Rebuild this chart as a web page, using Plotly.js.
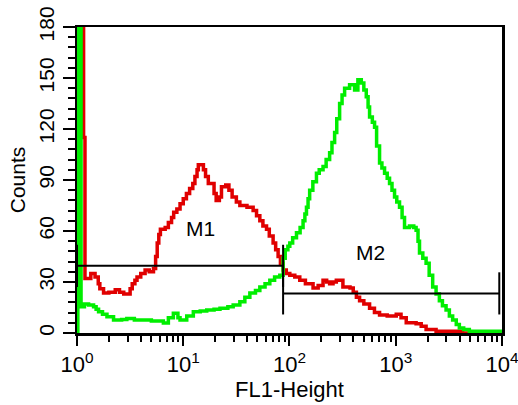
<!DOCTYPE html>
<html>
<head>
<meta charset="utf-8">
<script src="https://cdn.plot.ly/plotly-3.0.1.min.js"></script>
<style>html,body{margin:0;padding:0;background:#fff;overflow:hidden;}</style>
</head>
<body>
<div id="chart" style="width:518px;height:405px;"></div>
<script>
// FL1 positions are stored as decades (log10 of FL1-Height)
const redDecade = [0.045,0.062,0.075,0.100,0.130,0.170,0.200,0.215,0.250,0.300,0.360,0.400,0.440,0.500,0.520,0.545,0.565,0.600,0.641,0.680,0.720,0.740,0.755,0.770,0.785,0.830,0.860,0.890,0.910,0.940,0.970,1.000,1.030,1.060,1.090,1.110,1.130,1.142,1.190,1.210,1.236,1.270,1.290,1.310,1.340,1.360,1.400,1.430,1.460,1.500,1.533,1.600,1.658,1.690,1.721,1.750,1.784,1.810,1.846,1.870,1.893,1.915,1.940,1.970,2.003,2.050,2.097,2.150,2.222,2.270,2.316,2.350,2.378,2.410,2.441,2.503,2.570,2.600,2.630,2.660,2.700,2.754,2.800,2.848,2.920,3.005,3.050,3.099,3.192,3.240,3.286,3.380,3.630,4.000];
const redCounts = [200,115,32,32,35,33,29,26,23.5,24,25.5,24,23,26,29,31,33,35,37,36,38,45,53,58,61,62,65,68,71,73,76,79,82,85,88,92,96,99,96,92,88,88,82,78,80,86,87,84,80,77,75,74,72,69,66,63,61,57,53,49,45,41,37,35,34,33,31,29,26.5,28,31,30,29,30,31,27,26.5,24,21,19,17,14.5,12,10.6,10,11,9,6,5.5,4,2,1,0,0];

const greenDecade = [0.000,0.008,0.038,0.070,0.109,0.156,0.180,0.203,0.240,0.282,0.344,0.420,0.469,0.540,0.625,0.700,0.813,0.860,0.907,0.950,0.970,1.033,1.095,1.160,1.221,1.290,1.346,1.420,1.470,1.533,1.580,1.627,1.680,1.721,1.770,1.815,1.860,1.909,1.940,1.960,1.985,2.003,2.030,2.066,2.100,2.128,2.145,2.160,2.175,2.190,2.220,2.254,2.280,2.316,2.345,2.378,2.400,2.425,2.445,2.472,2.495,2.519,2.566,2.613,2.644,2.676,2.700,2.723,2.740,2.754,2.780,2.801,2.820,2.848,2.870,2.895,2.920,2.942,2.965,2.989,3.010,3.036,3.060,3.083,3.130,3.170,3.192,3.210,3.224,3.255,3.286,3.315,3.348,3.380,3.411,3.440,3.474,3.505,3.536,3.570,3.599,3.640,3.693,4.000];
const greenCounts = [0,200,15.5,17,16.5,15.5,14,12.5,11,9.6,7.6,8,8.5,7.6,7.6,7,5.9,9,11.6,9,7.6,10,12.5,13,13.5,14,14.5,15.5,16.5,18.4,21,23.5,25,27,29,31,33,34,44,49,51,53,56,59,62,66,70,74,79,84,89,94,96,98,102,106,112,118,126,135,140,144,146,143,149,147,143,139,133,127,124,121,110,100,97,94,91,88,84,80,77,74,68,62,63,62,60.5,54,47,44,41,34,27,23,19,16,13.5,10,7.6,5,3,2,1,1];

const gateNames = ['M1','M2'];
const gateStartDecade = [0.0, 1.94];
const gateEndDecade = [1.94, 3.975];
const gateLevel = [39.5, 23.3];
const gateLabelDecade = [1.165, 2.762];
const gateLabelCount = [61.2, 47.4];

const xTickVals = [1,10,100,1000,10000];
const xTickText = ['10<sup>0</sup>','10<sup>1</sup>','10<sup>2</sup>','10<sup>3</sup>','10<sup>4</sup>'];
const yTickVals = [0,30,60,90,120,150,180];

const toFL1 = d => Math.pow(10, d);

const traces = [
  {x: redDecade.map(toFL1), y: redCounts, mode:'lines', line:{shape:'hv', color:'#e00000', width:3.5}, hoverinfo:'skip'},
  {x: greenDecade.map(toFL1), y: greenCounts, mode:'lines', line:{shape:'hv', color:'#00ee00', width:3.5}, hoverinfo:'skip'}
];

const tickHalf = 12.4;
gateNames.forEach((n,i) => {
  const a = toFL1(gateStartDecade[i]), b = toFL1(gateEndDecade[i]), L = gateLevel[i];
  traces.push({x:[a,b], y:[L,L], mode:'lines', line:{color:'#000', width:2}, hoverinfo:'skip'});
  traces.push({x:[a,a], y:[L-tickHalf,L+tickHalf], mode:'lines', line:{color:'#000', width:2}, hoverinfo:'skip'});
  traces.push({x:[b,b], y:[L-tickHalf,L+tickHalf], mode:'lines', line:{color:'#000', width:2}, hoverinfo:'skip'});
});

const minorX = [];
for (let dec = 1; dec < 10000; dec *= 10) for (let k = 2; k <= 9; k++) minorX.push(k*dec);

const font = {family:'"Liberation Sans", Arial, sans-serif', color:'#000'};

const layout = {
  width:518, height:405,
  margin:{l:77, r:16, t:27, b:72},
  paper_bgcolor:'#fff', plot_bgcolor:'#fff',
  showlegend:false,
  font: Object.assign({size:21}, font),
  xaxis:{
    type:'log', range:[0,4.0005], autorange:false,
    tickmode:'array', tickvals:xTickVals, ticktext:xTickText,
    ticks:'outside', ticklen:10, tickwidth:2, tickcolor:'#000',
    ticklabeloverflow:'allow',
    showline:true, linecolor:'#000', linewidth:2.5, mirror:true,
    showgrid:false, zeroline:false,
    tickfont:Object.assign({size:22}, font),
    minor:{tickmode:'array', tickvals:minorX, ticks:'outside', ticklen:6, tickwidth:2, tickcolor:'#000', showgrid:false},
    title:{text:'FL1-Height', font:Object.assign({size:22}, font), standoff:2}
  },
  yaxis:{
    range:[0,180], autorange:false,
    tickmode:'array', tickvals:yTickVals,
    ticks:'outside', ticklen:12, tickwidth:2, tickcolor:'#000',
    showline:true, linecolor:'#000', linewidth:2.5, mirror:true,
    showgrid:false, zeroline:false, tickangle:-90,
    tickfont:Object.assign({size:21}, font),
    minor:{dtick:6, ticks:'outside', ticklen:7, tickwidth:2, tickcolor:'#000', showgrid:false},
    title:{text:'Counts', font:Object.assign({size:21}, font), standoff:4}
  },
  annotations: gateNames.map((n,i) => ({
    x: gateLabelDecade[i], y: gateLabelCount[i], xref:'x', yref:'y',
    text:n, showarrow:false, font:Object.assign({size:21}, font)
  }))
};

Plotly.newPlot('chart', traces, layout, {staticPlot:true, displayModeBar:false});
</script>
</body>
</html>
